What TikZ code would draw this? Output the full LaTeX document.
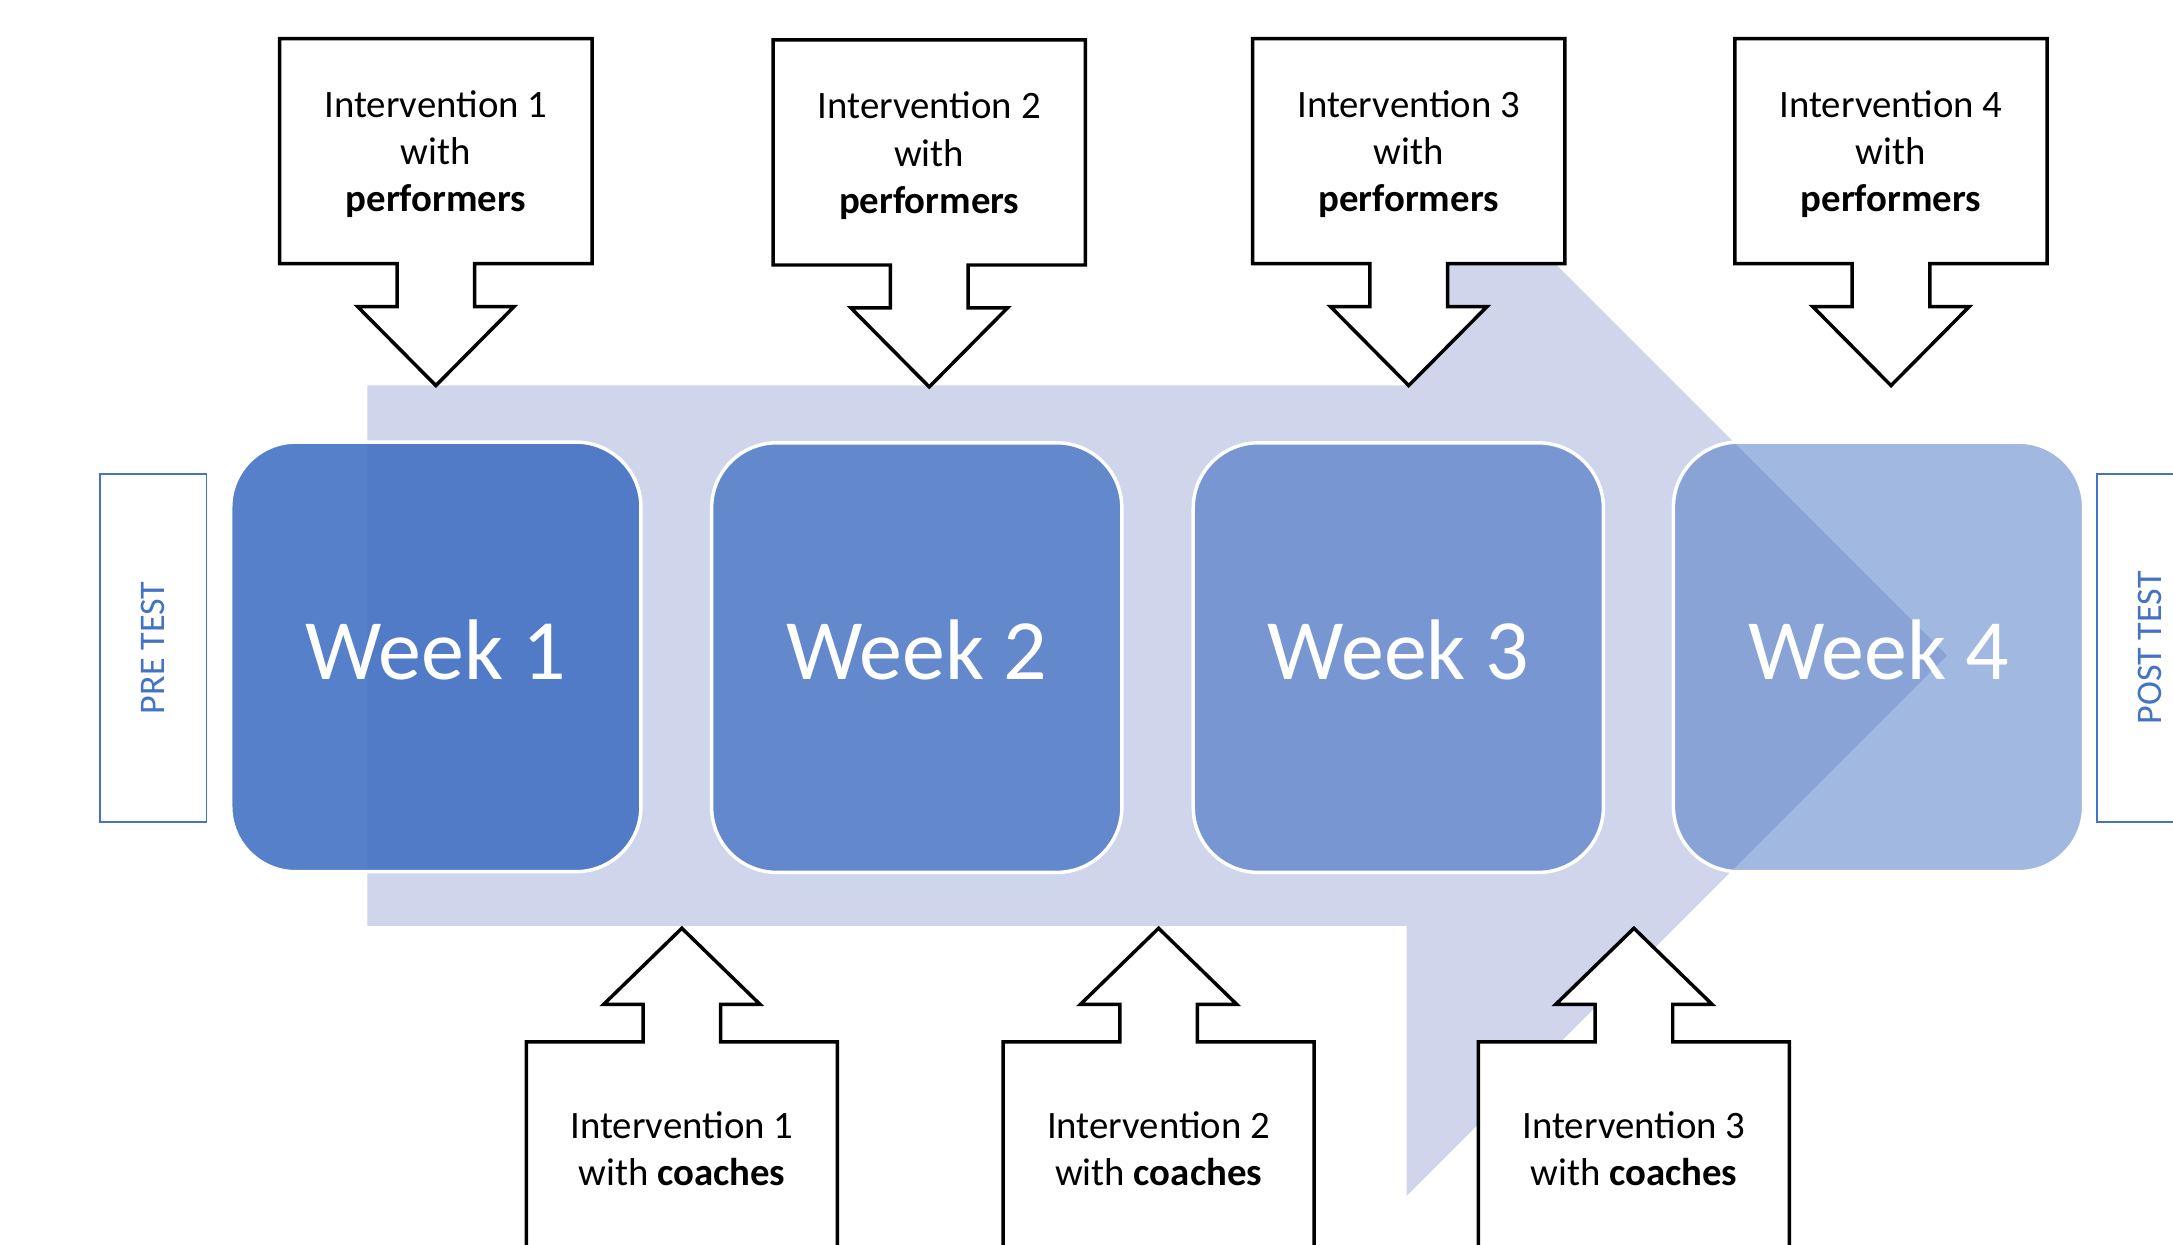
\documentclass[tikz,border=0pt]{standalone}
\usepackage{fontspec}
\setmainfont{Carlito}
\usepackage{tikz}
\usetikzlibrary{calc}
\usetikzlibrary{backgrounds}
\definecolor{bandcol}{RGB}{207,213,234}
\definecolor{weekblue}{RGB}{68,114,196}
\definecolor{testblue}{RGB}{68,114,196}
\tikzset{
	calltext/.style={minimum width=225pt,minimum height=162pt,inner sep=0pt,align=center,font=\fontsize{28}{34}\selectfont},
	coachtext/.style={calltext,minimum width=224pt,minimum height=154pt},
	callout/.style={draw=black,fill=white,line width=2.5pt,line join=miter},
	weekbox/.style={draw=white,line width=2.5pt,fill=weekblue,rounded corners=47pt,minimum width=296pt,minimum height=310pt,text=white,text opacity=1,text depth=11pt,font=\fontsize{62}{70}\selectfont},
	testbox/.style={draw=testblue,line width=1.3pt,fill=white,rotate=90,minimum width=251pt,minimum height=77pt,text=testblue,font=\fontsize{26}{30}\selectfont}
}
\def\topstrut{\rule{0pt}{24pt}}
\def\downcallout#1{\draw[callout] (#1.north west) -- (#1.north east) -- (#1.south east)
	-- ($(#1.south)+(28,0)$) -- ($(#1.south)+(28,-31)$) -- ($(#1.south)+(56.5,-31)$)
	-- ($(#1.south)+(0,-88)$) -- ($(#1.south)+(-56.5,-31)$) -- ($(#1.south)+(-28,-31)$)
	-- ($(#1.south)+(-28,0)$) -- (#1.south west) -- cycle;}
\def\upcallout#1{\draw[callout] (#1.south west) -- (#1.north west)
	-- ($(#1.north)+(-28,0)$) -- ($(#1.north)+(-28,27)$) -- ($(#1.north)+(-56.5,27)$)
	-- ($(#1.north)+(0,82)$) -- ($(#1.north)+(56.5,27)$) -- ($(#1.north)+(28,27)$)
	-- ($(#1.north)+(28,0)$) -- (#1.north east) -- (#1.south east) -- cycle;}

\begin{document}
\begin{tikzpicture}[x=1pt,y=1pt]
	\useasboundingbox (0,0) rectangle (1568,-898);
	\clip (0,0) rectangle (1568,-898);
	\node[calltext] (perf1) at (314.5,-109) {\topstrut Intervention 1\\with\\\textbf{performers}};
	\node[calltext] (perf2) at (670.5,-110) {\topstrut Intervention 2\\with\\\textbf{performers}};
	\node[calltext] (perf3) at (1016.5,-109) {\topstrut Intervention 3\\with\\\textbf{performers}};
	\node[calltext] (perf4) at (1364.5,-109) {\topstrut Intervention 4\\with\\\textbf{performers}};
	\node[coachtext] (coach1) at (492,-829) {Intervention 1\\with \textbf{coaches}};
	\node[coachtext] (coach2) at (836,-829) {Intervention 2\\with \textbf{coaches}};
	\node[coachtext] (coach3) at (1179,-829) {Intervention 3\\with \textbf{coaches}};
	\begin{scope}[on background layer]
		\fill[bandcol] (265,-278) -- (1015,-278) -- (1015,-83) -- (1405,-473) -- (1015,-863) -- (1015,-668) -- (265,-668) -- cycle;
		\downcallout{perf1}
		\downcallout{perf2}
		\downcallout{perf3}
		\downcallout{perf4}
		\upcallout{coach1}
		\upcallout{coach2}
		\upcallout{coach3}
	\end{scope}
	\node[weekbox,fill opacity=0.9] (week1) at (314.5,-474) {Week 1};
	\node[weekbox,fill opacity=0.77] (week2) at (661.5,-474.5) {Week 2};
	\node[weekbox,fill opacity=0.62] (week3) at (1009,-474.5) {Week 3};
	\node[weekbox,fill opacity=0.5] (week4) at (1355.5,-474) {Week 4};
	\node[testbox] (pre) at (110.5,-467.5) {PRE TEST};
	\node[testbox] (post) at (1551.5,-467.5) {POST TEST};
\end{tikzpicture}
\end{document}
